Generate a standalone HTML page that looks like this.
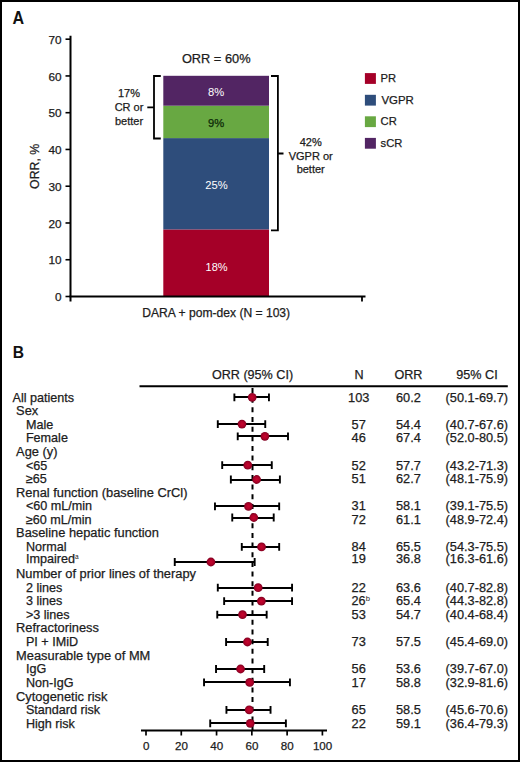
<!DOCTYPE html><html><head><meta charset="utf-8"><style>
html,body{margin:0;padding:0;background:#fff;}
svg{display:block;font-family:"Liberation Sans",sans-serif;}
text{stroke:#1a1a1a;stroke-width:0.25px;}
</style></head><body>
<svg width="520" height="762" viewBox="0 0 520 762">
<defs><radialGradient id="mk" cx="0.5" cy="0.5" r="0.5"><stop offset="0" stop-color="#c8062f"/><stop offset="0.6" stop-color="#ad0229"/><stop offset="1" stop-color="#800020"/></radialGradient></defs>
<rect x="0" y="0" width="520" height="762" fill="#fff"/>
<rect x="1" y="1" width="518" height="760" fill="none" stroke="#000" stroke-width="2"/>
<text x="12.5" y="23.9" font-size="17.6" font-weight="bold" fill="#111" style="stroke:none" textLength="11.6" lengthAdjust="spacingAndGlyphs">A</text>
<rect x="163.3" y="229.40" width="105.70" height="67.10" fill="#a50028"/>
<rect x="163.3" y="138.10" width="105.70" height="91.30" fill="#2e4d7b"/>
<rect x="163.3" y="105.70" width="105.70" height="32.40" fill="#68a842"/>
<rect x="163.3" y="75.80" width="105.70" height="29.90" fill="#522563"/>
<line x1="70.5" y1="35.8" x2="70.5" y2="301.4" stroke="#000" stroke-width="2"/>
<line x1="69.5" y1="296.5" x2="365.5" y2="296.5" stroke="#000" stroke-width="2"/>
<line x1="362" y1="296.5" x2="362" y2="301.4" stroke="#000" stroke-width="1.8"/>
<line x1="65.5" y1="296.50" x2="70.5" y2="296.50" stroke="#000" stroke-width="1.6"/>
<text x="61.6" y="301.10" font-size="11.8" text-anchor="end" fill="#222">0</text>
<line x1="65.5" y1="259.74" x2="70.5" y2="259.74" stroke="#000" stroke-width="1.6"/>
<text x="61.6" y="264.34" font-size="11.8" text-anchor="end" fill="#222">10</text>
<line x1="65.5" y1="222.98" x2="70.5" y2="222.98" stroke="#000" stroke-width="1.6"/>
<text x="61.6" y="227.58" font-size="11.8" text-anchor="end" fill="#222">20</text>
<line x1="65.5" y1="186.22" x2="70.5" y2="186.22" stroke="#000" stroke-width="1.6"/>
<text x="61.6" y="190.82" font-size="11.8" text-anchor="end" fill="#222">30</text>
<line x1="65.5" y1="149.46" x2="70.5" y2="149.46" stroke="#000" stroke-width="1.6"/>
<text x="61.6" y="154.06" font-size="11.8" text-anchor="end" fill="#222">40</text>
<line x1="65.5" y1="112.70" x2="70.5" y2="112.70" stroke="#000" stroke-width="1.6"/>
<text x="61.6" y="117.30" font-size="11.8" text-anchor="end" fill="#222">50</text>
<line x1="65.5" y1="75.94" x2="70.5" y2="75.94" stroke="#000" stroke-width="1.6"/>
<text x="61.6" y="80.54" font-size="11.8" text-anchor="end" fill="#222">60</text>
<line x1="65.5" y1="39.18" x2="70.5" y2="39.18" stroke="#000" stroke-width="1.6"/>
<text x="61.6" y="43.78" font-size="11.8" text-anchor="end" fill="#222">70</text>
<text transform="translate(39.4,166.3) rotate(-90)" font-size="12.35" text-anchor="middle" fill="#222">ORR, %</text>
<text x="216.2" y="316.5" font-size="12.1" text-anchor="middle" fill="#222">DARA + pom-dex (N = 103)</text>
<text x="216.2" y="62.7" font-size="12.8" text-anchor="middle" fill="#222">ORR = 60%</text>
<text x="216.2" y="96.3" font-size="11.2" text-anchor="middle" fill="#fff" style="stroke:none">8%</text>
<text x="216.2" y="126.6" font-size="11.2" text-anchor="middle" fill="#0c2a08" style="stroke:#0c2a08">9%</text>
<text x="216.4" y="189.3" font-size="11.2" text-anchor="middle" fill="#fff" style="stroke:none">25%</text>
<text x="216.6" y="271.1" font-size="11" text-anchor="middle" fill="#fff" style="stroke:none">18%</text>
<path d="M160.8 76 H154 V138.5 H160.8 M154 107.3 H147.3" fill="none" stroke="#000" stroke-width="1.8"/>
<text font-size="11" text-anchor="middle" fill="#222"><tspan x="129" y="97">17%</tspan><tspan x="129" y="110.8">CR or</tspan><tspan x="129" y="124.6">better</tspan></text>
<path d="M271 76 H277.9 V230.4 H271 M277.9 153.5 H283.5" fill="none" stroke="#000" stroke-width="1.8"/>
<text font-size="11" text-anchor="middle" fill="#222"><tspan x="310.7" y="145.8">42%</tspan><tspan x="310.7" y="159.7">VGPR or</tspan><tspan x="310.7" y="173.3">better</tspan></text>
<rect x="364.9" y="73.1" width="11" height="10.8" fill="#a50028"/>
<text x="380.6" y="81.80" font-size="11.2" fill="#222">PR</text>
<rect x="364.9" y="94.8" width="11" height="10.8" fill="#2e4d7b"/>
<text x="381.4" y="103.50" font-size="11.2" fill="#222" textLength="32.4" lengthAdjust="spacingAndGlyphs">VGPR</text>
<rect x="364.9" y="116.3" width="11" height="10.8" fill="#68a842"/>
<text x="380.6" y="125.00" font-size="11.2" fill="#222">CR</text>
<rect x="364.9" y="137.9" width="11" height="10.8" fill="#522563"/>
<text x="380.6" y="146.60" font-size="11.2" fill="#222">sCR</text>
<text x="12.7" y="358.1" font-size="17.1" font-weight="bold" fill="#111" style="stroke:none" textLength="11.3" lengthAdjust="spacingAndGlyphs">B</text>
<text x="252.5" y="378.8" font-size="12.6" text-anchor="middle" fill="#222">ORR (95% CI)</text>
<text x="359.1" y="378.8" font-size="12.6" text-anchor="middle" fill="#222">N</text>
<text x="408.4" y="378.8" font-size="12.6" text-anchor="middle" fill="#222">ORR</text>
<text x="477" y="378.8" font-size="12.6" text-anchor="middle" fill="#222">95% CI</text>
<line x1="139.5" y1="386.2" x2="507.8" y2="386.2" stroke="#000" stroke-width="2"/>
<line x1="252.5" y1="388" x2="252.5" y2="731" stroke="#000" stroke-width="2" stroke-dasharray="5 4.66"/>
<line x1="141" y1="730.6" x2="327" y2="730.6" stroke="#000" stroke-width="2"/>
<line x1="146.00" y1="730.6" x2="146.00" y2="735.5" stroke="#000" stroke-width="1.7"/>
<text x="146.20" y="749.9" font-size="11.6" text-anchor="middle" fill="#222">0</text>
<line x1="181.28" y1="730.6" x2="181.28" y2="735.5" stroke="#000" stroke-width="1.7"/>
<text x="181.48" y="749.9" font-size="11.6" text-anchor="middle" fill="#222">20</text>
<line x1="216.56" y1="730.6" x2="216.56" y2="735.5" stroke="#000" stroke-width="1.7"/>
<text x="216.76" y="749.9" font-size="11.6" text-anchor="middle" fill="#222">40</text>
<line x1="251.84" y1="730.6" x2="251.84" y2="735.5" stroke="#000" stroke-width="1.7"/>
<text x="252.04" y="749.9" font-size="11.6" text-anchor="middle" fill="#222">60</text>
<line x1="287.12" y1="730.6" x2="287.12" y2="735.5" stroke="#000" stroke-width="1.7"/>
<text x="287.32" y="749.9" font-size="11.6" text-anchor="middle" fill="#222">80</text>
<line x1="322.40" y1="730.6" x2="322.40" y2="735.5" stroke="#000" stroke-width="1.7"/>
<text x="322.60" y="749.9" font-size="11.6" text-anchor="middle" fill="#222">100</text>
<text x="12.5" y="401.7" font-size="12.6" fill="#222">All patients</text>
<path d="M234.38 397 H268.95" stroke="#000" stroke-width="1.8" fill="none"/>
<path d="M234.38 393.40 V401.20 M268.95 393.40 V401.20" stroke="#000" stroke-width="1.9" fill="none"/>
<circle cx="252.19" cy="397.3" r="4.4" fill="url(#mk)"/>
<text x="358.7" y="401.7" font-size="12.8" text-anchor="middle" fill="#222">103</text>
<text x="408.4" y="401.7" font-size="12.75" text-anchor="middle" fill="#222">60.2</text>
<text x="476.8" y="401.7" font-size="12.75" text-anchor="middle" fill="#222">(50.1-69.7)</text>
<text x="16.1" y="415.3" font-size="12.85" fill="#222">Sex</text>
<text x="25.9" y="428.9" font-size="12.6" fill="#222">Male</text>
<path d="M217.79 424 H265.25" stroke="#000" stroke-width="1.8" fill="none"/>
<path d="M217.79 420.20 V428.00 M265.25 420.20 V428.00" stroke="#000" stroke-width="1.9" fill="none"/>
<circle cx="241.96" cy="424.1" r="4.4" fill="url(#mk)"/>
<text x="358.7" y="428.9" font-size="12.8" text-anchor="middle" fill="#222">57</text>
<text x="408.4" y="428.9" font-size="12.75" text-anchor="middle" fill="#222">54.4</text>
<text x="476.8" y="428.9" font-size="12.75" text-anchor="middle" fill="#222">(40.7-67.6)</text>
<text x="25.9" y="442.3" font-size="12.6" fill="#222">Female</text>
<path d="M237.73 436 H288.00" stroke="#000" stroke-width="1.8" fill="none"/>
<path d="M237.73 432.40 V440.20 M288.00 432.40 V440.20" stroke="#000" stroke-width="1.9" fill="none"/>
<circle cx="264.89" cy="436.3" r="4.4" fill="url(#mk)"/>
<text x="358.7" y="442.3" font-size="12.8" text-anchor="middle" fill="#222">46</text>
<text x="408.4" y="442.3" font-size="12.75" text-anchor="middle" fill="#222">67.4</text>
<text x="476.8" y="442.3" font-size="12.75" text-anchor="middle" fill="#222">(52.0-80.5)</text>
<text x="16.1" y="456.0" font-size="12.85" fill="#222">Age (y)</text>
<text x="25.9" y="469.5" font-size="12.6" fill="#222">&lt;65</text>
<path d="M222.20 465 H271.77" stroke="#000" stroke-width="1.8" fill="none"/>
<path d="M222.20 461.30 V469.10 M271.77 461.30 V469.10" stroke="#000" stroke-width="1.9" fill="none"/>
<circle cx="247.78" cy="465.2" r="4.4" fill="url(#mk)"/>
<text x="358.7" y="469.5" font-size="12.8" text-anchor="middle" fill="#222">52</text>
<text x="408.4" y="469.5" font-size="12.75" text-anchor="middle" fill="#222">57.7</text>
<text x="476.8" y="469.5" font-size="12.75" text-anchor="middle" fill="#222">(43.2-71.3)</text>
<text x="25.9" y="482.9" font-size="12.6" fill="#222">≥65</text>
<path d="M230.85 480 H279.89" stroke="#000" stroke-width="1.8" fill="none"/>
<path d="M230.85 475.60 V483.40 M279.89 475.60 V483.40" stroke="#000" stroke-width="1.9" fill="none"/>
<circle cx="256.60" cy="479.5" r="4.4" fill="url(#mk)"/>
<text x="358.7" y="482.9" font-size="12.8" text-anchor="middle" fill="#222">51</text>
<text x="408.4" y="482.9" font-size="12.75" text-anchor="middle" fill="#222">62.7</text>
<text x="476.8" y="482.9" font-size="12.75" text-anchor="middle" fill="#222">(48.1-75.9)</text>
<text x="16.1" y="496.7" font-size="12.85" fill="#222">Renal function (baseline CrCl)</text>
<text x="25.9" y="510.1" font-size="12.6" fill="#222">&lt;60 mL/min</text>
<path d="M214.97 506 H279.18" stroke="#000" stroke-width="1.8" fill="none"/>
<path d="M214.97 502.50 V510.30 M279.18 502.50 V510.30" stroke="#000" stroke-width="1.9" fill="none"/>
<circle cx="248.49" cy="506.4" r="4.4" fill="url(#mk)"/>
<text x="358.7" y="510.1" font-size="12.8" text-anchor="middle" fill="#222">31</text>
<text x="408.4" y="510.1" font-size="12.75" text-anchor="middle" fill="#222">58.1</text>
<text x="476.8" y="510.1" font-size="12.75" text-anchor="middle" fill="#222">(39.1-75.5)</text>
<text x="25.9" y="523.7" font-size="12.6" fill="#222">≥60 mL/min</text>
<path d="M232.26 518 H273.71" stroke="#000" stroke-width="1.8" fill="none"/>
<path d="M232.26 513.60 V521.40 M273.71 513.60 V521.40" stroke="#000" stroke-width="1.9" fill="none"/>
<circle cx="253.78" cy="517.5" r="4.4" fill="url(#mk)"/>
<text x="358.7" y="523.7" font-size="12.8" text-anchor="middle" fill="#222">72</text>
<text x="408.4" y="523.7" font-size="12.75" text-anchor="middle" fill="#222">61.1</text>
<text x="476.8" y="523.7" font-size="12.75" text-anchor="middle" fill="#222">(48.9-72.4)</text>
<text x="16.1" y="537.3" font-size="12.85" fill="#222">Baseline hepatic function</text>
<text x="25.9" y="550.9" font-size="12.6" fill="#222">Normal</text>
<path d="M241.79 547 H279.18" stroke="#000" stroke-width="1.8" fill="none"/>
<path d="M241.79 543.00 V550.80 M279.18 543.00 V550.80" stroke="#000" stroke-width="1.9" fill="none"/>
<circle cx="261.54" cy="546.9" r="4.4" fill="url(#mk)"/>
<text x="358.7" y="550.9" font-size="12.8" text-anchor="middle" fill="#222">84</text>
<text x="408.4" y="550.9" font-size="12.75" text-anchor="middle" fill="#222">65.5</text>
<text x="476.8" y="550.9" font-size="12.75" text-anchor="middle" fill="#222">(54.3-75.5)</text>
<text x="25.9" y="563.1" font-size="12.6" fill="#222">Impaired<tspan font-size="6.5" dy="-4" style="stroke:none">a</tspan></text>
<path d="M174.75 562 H254.66" stroke="#000" stroke-width="1.8" fill="none"/>
<path d="M174.75 558.10 V565.90 M254.66 558.10 V565.90" stroke="#000" stroke-width="1.9" fill="none"/>
<circle cx="210.92" cy="562.0" r="4.4" fill="url(#mk)"/>
<text x="358.7" y="563.1" font-size="12.8" text-anchor="middle" fill="#222">19</text>
<text x="408.4" y="563.1" font-size="12.75" text-anchor="middle" fill="#222">36.8</text>
<text x="476.8" y="563.1" font-size="12.75" text-anchor="middle" fill="#222">(16.3-61.6)</text>
<text x="16.1" y="578.1" font-size="12.85" fill="#222">Number of prior lines of therapy</text>
<text x="25.9" y="591.9" font-size="12.6" fill="#222">2 lines</text>
<path d="M217.79 588 H292.06" stroke="#000" stroke-width="1.8" fill="none"/>
<path d="M217.79 583.80 V591.60 M292.06 583.80 V591.60" stroke="#000" stroke-width="1.9" fill="none"/>
<circle cx="258.19" cy="587.7" r="4.4" fill="url(#mk)"/>
<text x="358.7" y="591.9" font-size="12.8" text-anchor="middle" fill="#222">22</text>
<text x="408.4" y="591.9" font-size="12.75" text-anchor="middle" fill="#222">63.6</text>
<text x="476.8" y="591.9" font-size="12.75" text-anchor="middle" fill="#222">(40.7-82.8)</text>
<text x="25.9" y="605.3" font-size="12.6" fill="#222">3 lines</text>
<path d="M224.15 601 H292.06" stroke="#000" stroke-width="1.8" fill="none"/>
<path d="M224.15 597.30 V605.10 M292.06 597.30 V605.10" stroke="#000" stroke-width="1.9" fill="none"/>
<circle cx="261.37" cy="601.2" r="4.4" fill="url(#mk)"/>
<text x="358.4" y="605.3" font-size="12.6" text-anchor="middle" fill="#222">26</text>
<text x="365.7" y="600.90" font-size="7.6" fill="#222" style="stroke:none">b</text>
<text x="408.4" y="605.3" font-size="12.75" text-anchor="middle" fill="#222">65.4</text>
<text x="476.8" y="605.3" font-size="12.75" text-anchor="middle" fill="#222">(44.3-82.8)</text>
<text x="25.9" y="618.7" font-size="12.6" fill="#222">&gt;3 lines</text>
<path d="M217.27 615 H266.66" stroke="#000" stroke-width="1.8" fill="none"/>
<path d="M217.27 610.70 V618.50 M266.66 610.70 V618.50" stroke="#000" stroke-width="1.9" fill="none"/>
<circle cx="242.49" cy="614.6" r="4.4" fill="url(#mk)"/>
<text x="358.7" y="618.7" font-size="12.8" text-anchor="middle" fill="#222">53</text>
<text x="408.4" y="618.7" font-size="12.75" text-anchor="middle" fill="#222">54.7</text>
<text x="476.8" y="618.7" font-size="12.75" text-anchor="middle" fill="#222">(40.4-68.4)</text>
<text x="16.1" y="632.1" font-size="12.85" fill="#222">Refractoriness</text>
<text x="25.9" y="646.1" font-size="12.6" fill="#222">PI + IMiD</text>
<path d="M226.09 642 H267.72" stroke="#000" stroke-width="1.8" fill="none"/>
<path d="M226.09 638.10 V645.90 M267.72 638.10 V645.90" stroke="#000" stroke-width="1.9" fill="none"/>
<circle cx="247.43" cy="642.0" r="4.4" fill="url(#mk)"/>
<text x="358.7" y="646.1" font-size="12.8" text-anchor="middle" fill="#222">73</text>
<text x="408.4" y="646.1" font-size="12.75" text-anchor="middle" fill="#222">57.5</text>
<text x="476.8" y="646.1" font-size="12.75" text-anchor="middle" fill="#222">(45.4-69.0)</text>
<text x="16.1" y="659.7" font-size="12.85" fill="#222">Measurable type of MM</text>
<text x="25.9" y="672.9" font-size="12.6" fill="#222">IgG</text>
<path d="M216.03 669 H264.19" stroke="#000" stroke-width="1.8" fill="none"/>
<path d="M216.03 665.10 V672.90 M264.19 665.10 V672.90" stroke="#000" stroke-width="1.9" fill="none"/>
<circle cx="240.55" cy="669.0" r="4.4" fill="url(#mk)"/>
<text x="358.7" y="672.9" font-size="12.8" text-anchor="middle" fill="#222">56</text>
<text x="408.4" y="672.9" font-size="12.75" text-anchor="middle" fill="#222">53.6</text>
<text x="476.8" y="672.9" font-size="12.75" text-anchor="middle" fill="#222">(39.7-67.0)</text>
<text x="25.9" y="686.5" font-size="12.6" fill="#222">Non-IgG</text>
<path d="M204.04 682 H289.94" stroke="#000" stroke-width="1.8" fill="none"/>
<path d="M204.04 678.50 V686.30 M289.94 678.50 V686.30" stroke="#000" stroke-width="1.9" fill="none"/>
<circle cx="249.72" cy="682.4" r="4.4" fill="url(#mk)"/>
<text x="358.7" y="686.5" font-size="12.8" text-anchor="middle" fill="#222">17</text>
<text x="408.4" y="686.5" font-size="12.75" text-anchor="middle" fill="#222">58.8</text>
<text x="476.8" y="686.5" font-size="12.75" text-anchor="middle" fill="#222">(32.9-81.6)</text>
<text x="16.1" y="700.5" font-size="12.85" fill="#222">Cytogenetic risk</text>
<text x="25.9" y="714.2" font-size="12.6" fill="#222">Standard risk</text>
<path d="M226.44 710 H270.54" stroke="#000" stroke-width="1.8" fill="none"/>
<path d="M226.44 705.90 V713.70 M270.54 705.90 V713.70" stroke="#000" stroke-width="1.9" fill="none"/>
<circle cx="249.19" cy="709.8" r="4.4" fill="url(#mk)"/>
<text x="358.7" y="714.2" font-size="12.8" text-anchor="middle" fill="#222">65</text>
<text x="408.4" y="714.2" font-size="12.75" text-anchor="middle" fill="#222">58.5</text>
<text x="476.8" y="714.2" font-size="12.75" text-anchor="middle" fill="#222">(45.6-70.6)</text>
<text x="25.9" y="727.5" font-size="12.6" fill="#222">High risk</text>
<path d="M210.21 723 H285.89" stroke="#000" stroke-width="1.8" fill="none"/>
<path d="M210.21 719.40 V727.20 M285.89 719.40 V727.20" stroke="#000" stroke-width="1.9" fill="none"/>
<circle cx="250.25" cy="723.3" r="4.4" fill="url(#mk)"/>
<text x="358.7" y="727.5" font-size="12.8" text-anchor="middle" fill="#222">22</text>
<text x="408.4" y="727.5" font-size="12.75" text-anchor="middle" fill="#222">59.1</text>
<text x="476.8" y="727.5" font-size="12.75" text-anchor="middle" fill="#222">(36.4-79.3)</text>
</svg></body></html>
